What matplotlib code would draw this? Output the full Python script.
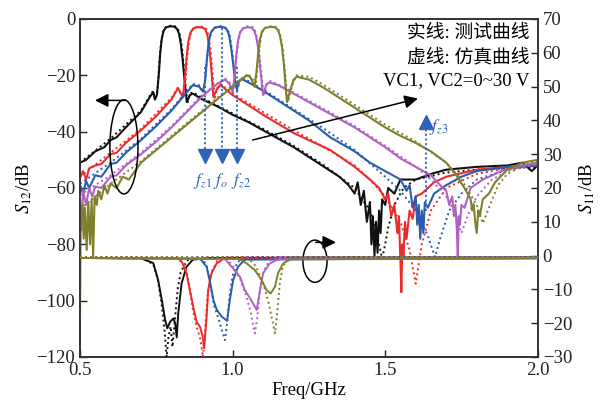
import numpy as np
import matplotlib
matplotlib.use("Agg")
import matplotlib.pyplot as plt
from matplotlib.patches import Ellipse

plt.rcParams["font.family"] = ["Liberation Serif", "Noto Sans CJK SC"]
plt.rcParams["mathtext.fontset"] = "stix"

# ---- data (freq GHz, dB) ----
# S12, measured (solid)
black_s12_meas = [(0.50, -51), (0.52, -50), (0.55, -47), (0.58, -45.5), (0.60, -43), (0.62, -42),
                  (0.65, -38.5), (0.70, -33), (0.73, -27.5), (0.74, -26), (0.745, -28.5), (0.752, -27),
                  (0.758, -20), (0.763, -12), (0.768, -7), (0.774, -4.2), (0.782, -3), (0.795, -2.6),
                  (0.808, -2.7), (0.817, -3.4), (0.824, -5), (0.83, -8.5), (0.836, -14), (0.842, -21),
                  (0.85, -29.5), (0.86, -27), (0.87, -26.5), (0.90, -28.5), (0.95, -31), (1.00, -34),
                  (1.05, -36.5), (1.10, -39.5), (1.15, -42.5), (1.20, -45.5), (1.25, -49), (1.30, -52.5),
                  (1.35, -56), (1.38, -59), (1.40, -62), (1.41, -58), (1.42, -66), (1.43, -61),
                  (1.44, -72), (1.45, -65), (1.455, -80), (1.46, -70), (1.465, -84), (1.47, -72),
                  (1.475, -83), (1.48, -68), (1.485, -76), (1.49, -64), (1.50, -66), (1.51, -60),
                  (1.53, -62), (1.55, -57), (1.60, -57), (1.65, -55), (1.70, -53.5), (1.80, -52.5),
                  (1.90, -52), (1.95, -51), (1.98, -54), (2.00, -52)]
red_s12_meas = [(0.50, -56.5), (0.51, -54), (0.52, -57), (0.53, -53), (0.55, -52), (0.57, -51.5),
                (0.60, -48), (0.62, -47.5), (0.65, -44), (0.70, -39.5), (0.75, -34.5),
                (0.80, -28.5), (0.821, -24.5), (0.837, -27.7), (0.843, -22), (0.849, -14), (0.855, -8),
                (0.862, -4.8), (0.872, -3.3), (0.885, -2.9), (0.90, -3), (0.91, -3.6), (0.917, -5.5),
                (0.923, -9.5), (0.929, -16), (0.934, -23), (0.937, -27.7), (0.948, -25), (0.96, -23.4),
                (1.00, -27), (1.10, -34), (1.20, -40.5), (1.32, -46.5),
                (1.40, -52.5), (1.45, -57), (1.48, -60), (1.50, -64), (1.51, -62), (1.52, -70),
                (1.53, -66), (1.54, -76), (1.545, -70), (1.55, -86), (1.553, -97), (1.556, -80),
                (1.56, -84), (1.565, -72), (1.57, -78), (1.58, -68), (1.59, -71), (1.60, -63),
                (1.62, -62), (1.66, -58), (1.70, -56), (1.80, -53.5), (1.90, -52.5), (2.00, -52)]
blue_s12_meas = [(0.50, -59), (0.51, -62), (0.52, -57.5), (0.53, -60), (0.55, -55.5), (0.57, -56),
                 (0.60, -51.5), (0.62, -51), (0.65, -47.5), (0.70, -43), (0.75, -38),
                 (0.80, -32.5), (0.85, -26), (0.87, -23.5), (0.89, -24), (0.903, -25.8), (0.91, -22),
                 (0.916, -14), (0.922, -8), (0.929, -4.8), (0.94, -3.2), (0.955, -2.8), (0.97, -2.9),
                 (0.98, -3.5), (0.988, -5.5), (0.995, -10), (1.002, -16), (1.008, -22), (1.014, -25),
                 (1.022, -22), (1.03, -21.3), (1.06, -23),
                 (1.10, -25.5), (1.15, -29), (1.20, -32.5), (1.25, -36), (1.32, -42), (1.40, -47),
                 (1.45, -51), (1.50, -54), (1.55, -57), (1.57, -61), (1.58, -59), (1.59, -67),
                 (1.60, -63), (1.605, -73), (1.61, -66), (1.615, -78), (1.62, -68), (1.625, -76),
                 (1.63, -65), (1.64, -67), (1.66, -62), (1.70, -59), (1.75, -56), (1.80, -54),
                 (1.90, -52.5), (2.00, -52)]
violet_s12_meas = [(0.50, -63), (0.505, -75), (0.51, -61), (0.52, -66), (0.53, -60), (0.54, -63),
                   (0.55, -59.5), (0.57, -60), (0.60, -56), (0.62, -55.5), (0.65, -52),
                   (0.70, -48), (0.75, -43.5), (0.80, -38.5), (0.85, -33), (0.90, -27.5), (0.95, -23),
                   (0.975, -21.5), (0.99, -23), (1.00, -26), (1.006, -21), (1.012, -13), (1.018, -7.5),
                   (1.025, -4.6), (1.035, -3.3), (1.05, -2.9), (1.062, -3.1), (1.07, -4), (1.077, -6),
                   (1.084, -10.5), (1.09, -17), (1.096, -23), (1.10, -27),
                   (1.11, -23.5), (1.12, -22.5), (1.15, -23.5), (1.20, -26.5), (1.25, -29.5),
                   (1.30, -32.5), (1.35, -35.5), (1.40, -38.5), (1.45, -42), (1.50, -45.5), (1.55, -49.5),
                   (1.60, -52.5), (1.65, -55.5), (1.68, -59), (1.70, -61), (1.71, -66), (1.72, -63),
                   (1.725, -70), (1.73, -66), (1.735, -75), (1.738, -85), (1.741, -70), (1.745, -73),
                   (1.75, -66), (1.76, -67), (1.78, -60), (1.82, -57), (1.88, -54), (1.95, -52),
                   (2.00, -51)]
olive_s12_meas = [(0.500, -107), (0.502, -70), (0.508, -66), (0.512, -78), (0.516, -67), (0.522, -82),
                  (0.527, -65), (0.533, -80), (0.538, -64), (0.543, -84.5), (0.548, -63), (0.555, -66),
                  (0.56, -61), (0.57, -64), (0.58, -59), (0.59, -62), (0.60, -58.5), (0.62, -60),
                  (0.64, -56), (0.66, -57), (0.70, -51), (0.75, -46.5), (0.80, -42), (0.85, -37.5),
                  (0.90, -33), (0.95, -28.5), (1.00, -24), (1.04, -20.5), (1.05, -20), (1.06, -21),
                  (1.072, -24), (1.078, -19), (1.084, -12), (1.09, -7), (1.097, -4.3), (1.108, -3.1),
                  (1.125, -2.8), (1.14, -3), (1.148, -3.8), (1.155, -5.8), (1.162, -10), (1.168, -16),
                  (1.173, -23), (1.178, -29.5), (1.19, -25), (1.20, -21.5),
                  (1.21, -20.5), (1.25, -21.5), (1.30, -24.5), (1.35, -28), (1.40, -31.5), (1.45, -35),
                  (1.50, -38.5), (1.55, -41.5), (1.60, -44), (1.65, -47), (1.70, -51), (1.73, -55),
                  (1.76, -60), (1.78, -64), (1.785, -68), (1.79, -66), (1.795, -72), (1.80, -76),
                  (1.805, -68), (1.81, -70), (1.82, -64), (1.84, -62), (1.86, -58), (1.90, -53.5),
                  (1.95, -51), (2.00, -50)]

# S12, simulated (dotted)
black_s12_sim = [(0.50, -51), (0.60, -42.5), (0.70, -32.5), (0.73, -27), (0.74, -25.5), (0.748, -29),
                 (0.755, -24), (0.761, -14), (0.766, -8), (0.772, -4.5), (0.78, -3), (0.795, -2.4),
                 (0.81, -2.5), (0.82, -3.3), (0.827, -5.5), (0.834, -10), (0.84, -17), (0.846, -24),
                 (0.852, -30), (0.86, -26.5), (0.87, -26), (0.90, -28),
                 (1.00, -33.5), (1.10, -39), (1.20, -45), (1.30, -52), (1.40, -60), (1.45, -68),
                 (1.47, -75), (1.49, -85), (1.50, -80), (1.51, -74), (1.53, -66), (1.56, -60),
                 (1.60, -57), (1.70, -54.5), (1.80, -53.5), (1.90, -53), (2.00, -52.5)]
red_s12_sim = [(0.50, -56), (0.60, -47.5), (0.70, -39), (0.80, -28), (0.82, -24.5), (0.838, -28),
               (0.845, -23), (0.851, -14), (0.857, -8), (0.864, -4.6), (0.875, -3), (0.89, -2.6),
               (0.905, -2.8), (0.914, -3.6), (0.921, -5.8), (0.927, -10), (0.933, -17), (0.938, -24),
               (0.942, -28), (0.95, -24.5), (0.96, -23), (1.00, -26.5),
               (1.10, -33), (1.20, -39.5), (1.30, -45.5), (1.40, -52), (1.45, -57), (1.50, -63),
               (1.55, -72), (1.58, -82), (1.60, -94), (1.62, -80), (1.65, -68), (1.70, -60),
               (1.80, -55), (1.90, -53), (2.00, -52)]
blue_s12_sim = [(0.50, -58.5), (0.60, -51), (0.70, -42.5), (0.80, -32), (0.87, -23), (0.89, -23.5),
                (0.903, -26), (0.911, -21), (0.917, -13), (0.923, -7.5), (0.93, -4.5), (0.942, -3),
                (0.96, -2.5), (0.973, -2.8), (0.983, -3.6), (0.991, -6), (0.998, -11), (1.004, -17),
                (1.01, -23), (1.015, -25.5), (1.025, -21.5),
                (1.035, -21), (1.10, -25), (1.20, -32), (1.30, -39), (1.40, -46.5), (1.50, -56),
                (1.55, -61), (1.60, -68), (1.64, -77), (1.663, -84.5), (1.68, -78), (1.71, -68),
                (1.75, -62), (1.80, -57), (1.90, -53.5), (2.00, -52)]
violet_s12_sim = [(0.50, -62.5), (0.60, -55.5), (0.70, -47.5), (0.80, -38), (0.90, -27), (0.975, -21),
                  (0.99, -22.5), (1.002, -26), (1.008, -20), (1.014, -12), (1.02, -7), (1.027, -4.2),
                  (1.038, -2.8), (1.053, -2.5), (1.066, -2.9), (1.074, -4.2), (1.081, -7), (1.088, -12),
                  (1.094, -19), (1.102, -27), (1.112, -23),
                  (1.125, -22), (1.20, -26), (1.30, -32), (1.40, -38), (1.50, -45), (1.60, -52.5),
                  (1.65, -57), (1.70, -63), (1.73, -69), (1.75, -76), (1.77, -70), (1.80, -63),
                  (1.85, -57), (1.90, -54), (2.00, -51.5)]
olive_s12_sim = [(0.50, -67.5), (0.60, -58.5), (0.70, -50.5), (0.80, -41.5), (0.90, -32.5), (1.00, -23.5),
                 (1.05, -19.5), (1.065, -21), (1.075, -24.5), (1.081, -18), (1.087, -11), (1.093, -6.5),
                 (1.1, -4), (1.112, -2.8), (1.13, -2.5), (1.143, -2.9), (1.151, -4), (1.158, -6.5),
                 (1.165, -11), (1.171, -18), (1.177, -25), (1.182, -29.5),
                 (1.195, -23.5), (1.21, -20), (1.25, -20.5), (1.30, -23.5), (1.40, -30.5), (1.50, -37.5),
                 (1.60, -43.5), (1.70, -51), (1.75, -57), (1.80, -66), (1.82, -72.5), (1.84, -67),
                 (1.87, -59), (1.90, -55), (1.95, -52), (2.00, -50.5)]

# S11 (right axis), measured
black_s11_meas = [(0.50, -0.7), (0.70, -0.8), (0.74, -2.2), (0.756, -7.2), (0.768, -13.1), (0.779, -19),
                  (0.786, -21.5), (0.796, -19.5), (0.806, -18.6), (0.812, -20), (0.817, -24.2),
                  (0.822, -17), (0.833, -8.2), (0.849, -3.3), (0.87, -1.2), (0.92, -0.7), (2.00, -0.7)]
red_s11_meas = [(0.50, -0.7), (0.82, -0.8), (0.835, -2), (0.849, -5.3), (0.86, -10.2), (0.871, -15.1),
                (0.882, -19.6), (0.893, -21), (0.902, -24), (0.907, -27.4), (0.915, -18), (0.92, -10.2),
                (0.931, -5.2), (0.948, -2.3), (0.97, -1), (2.00, -0.7)]
blue_s11_meas = [(0.50, -0.7), (0.893, -0.9), (0.915, -3.3), (0.927, -8.2), (0.937, -13.1), (0.948, -16),
                 (0.964, -18), (0.982, -19.3), (0.991, -13.1), (1.002, -7.2), (1.018, -3.3),
                 (1.04, -1.2), (2.00, -0.7)]
violet_s11_meas = [(0.50, -0.7), (0.975, -1), (0.997, -3.3), (1.024, -6.2), (1.04, -10.2), (1.057, -12.6),
                   (1.073, -15.1), (1.079, -16.1), (1.09, -10.2), (1.10, -5.2), (1.122, -2.3),
                   (1.15, -1.1), (2.00, -0.7)]
olive_s11_meas = [(0.50, -0.7), (1.02, -1), (1.046, -2.3), (1.073, -4.3), (1.095, -7.2), (1.111, -10.2),
                  (1.125, -11.2), (1.139, -9.2), (1.149, -5.2), (1.166, -2.3), (1.19, -1.1),
                  (2.00, -0.9)]

# S11, simulated
black_s11_sim = [(0.50, -0.4), (0.70, -0.6), (0.74, -2.5), (0.755, -7), (0.767, -14), (0.777, -22),
                 (0.784, -30), (0.79, -24), (0.797, -21), (0.803, -27), (0.81, -20), (0.82, -10),
                 (0.83, -5), (0.85, -1.5), (0.88, -0.5), (2.00, -0.4)]
red_s11_sim = [(0.50, -0.4), (0.82, -0.6), (0.845, -3), (0.858, -9), (0.87, -16), (0.882, -21),
               (0.895, -25), (0.903, -30), (0.91, -22), (0.918, -12), (0.93, -5), (0.95, -1.5),
               (0.98, -0.5), (2.00, -0.4)]
blue_s11_sim = [(0.50, -0.4), (0.90, -0.6), (0.915, -3), (0.928, -9), (0.94, -15), (0.955, -19),
                (0.968, -23), (0.975, -25), (0.982, -20), (0.99, -12), (1.00, -6), (1.015, -2),
                (1.04, -0.5), (2.00, -0.4)]
violet_s11_sim = [(0.50, -0.4), (0.98, -0.6), (1.00, -3), (1.025, -7), (1.045, -12), (1.06, -17),
                  (1.068, -21), (1.073, -23), (1.08, -19), (1.09, -10), (1.10, -5), (1.12, -1.5),
                  (1.15, -0.5), (2.00, -0.4)]
olive_s11_sim = [(0.50, -0.4), (1.05, -0.6), (1.075, -3), (1.10, -8), (1.118, -14), (1.13, -19),
                 (1.139, -23), (1.146, -17), (1.155, -8), (1.165, -3), (1.19, -0.5), (2.00, -0.4)]

colors = {"black": "#111111", "red": "#ee2b2b", "blue": "#2a5cad", "violet": "#b062c2", "olive": "#7f7f2c"}
arrow_blue = "#2e63b8"

s12_meas = {"black": black_s12_meas, "red": red_s12_meas, "blue": blue_s12_meas,
            "violet": violet_s12_meas, "olive": olive_s12_meas}
s12_sim = {"black": black_s12_sim, "red": red_s12_sim, "blue": blue_s12_sim,
           "violet": violet_s12_sim, "olive": olive_s12_sim}
s11_meas = {"black": black_s11_meas, "red": red_s11_meas, "blue": blue_s11_meas,
            "violet": violet_s11_meas, "olive": olive_s11_meas}
s11_sim = {"black": black_s11_sim, "red": red_s11_sim, "blue": blue_s11_sim,
           "violet": violet_s11_sim, "olive": olive_s11_sim}

fig = plt.figure(figsize=(6.12, 4.12), dpi=100)
ax = fig.add_axes([0.1307, 0.1335, 0.748, 0.8204])
ax2 = ax.twinx()

dots = (0, (1, 1.6))
for name in colors:
    f, v = np.array(s12_meas[name]).T
    ax.plot(f, v, color=colors[name], lw=1.5, zorder=3)
    f, v = np.array(s12_sim[name]).T
    ax.plot(f, v, color=colors[name], lw=1.4, ls=dots, zorder=3)
    f, v = np.array(s11_meas[name]).T
    ax2.plot(f, v, color=colors[name], lw=1.4, zorder=3)
    f, v = np.array(s11_sim[name]).T
    ax2.plot(f, v, color=colors[name], lw=1.4, ls=dots, zorder=3)

ax.set_xlim(0.5, 2.0)
ax.set_ylim(-120, 0)
ax2.set_ylim(-30, 70)
ax.set_xticks([0.5, 1.0, 1.5, 2.0])
ax.set_xticklabels(["0.5", "1.0", "1.5", "2.0"])
ax.set_yticks(np.arange(-120, 1, 20))
ax.set_yticklabels(["\u2212120", "\u2212100", "\u221280", "\u221260", "\u221240", "\u221220", "0"])
ax2.set_yticks(np.arange(-30, 71, 10))
ax2.set_yticklabels([("\u2212%d" % -t) if t < 0 else str(t) for t in range(-30, 71, 10)])

for a in (ax, ax2):
    a.tick_params(direction="in", length=5, width=1, labelsize=13.5, colors="#222222")
    for s in a.spines.values():
        s.set_linewidth(1.2)
        s.set_color("#333333")

ax.set_xlabel("Freq/GHz", fontsize=13.5, labelpad=2)
ax.set_ylabel("$S_{12}$/dB", fontsize=13.5, labelpad=2)
ax2.set_ylabel("$S_{11}$/dB", fontsize=13.5, labelpad=4)

# legend-like text
ax.text(1.974, -5, "实线: 测试曲线", ha="right", va="center", fontsize=13.5)
ax.text(1.974, -13.5, "虚线: 仿真曲线", ha="right", va="center", fontsize=13.5)
ax.text(1.974, -21.8, "VC1, VC2=0~30 V", ha="right", va="center", fontsize=13.5)

# tuning arrow
ax.annotate("", xy=(1.616, -28), xytext=(1.057, -43.2),
            arrowprops=dict(arrowstyle="-|>", color="k", lw=1.1, mutation_scale=20))

# ellipses with direction arrows
ax.add_patch(Ellipse((0.644, -45.4), 0.092, 33.4, fill=False, ec="k", lw=1.1, zorder=4))
ax.annotate("", xy=(0.54, -28.9), xytext=(0.657, -28.9),
            arrowprops=dict(arrowstyle="-|>", color="k", lw=1.1, mutation_scale=20))
ax.add_patch(Ellipse((1.27, -86), 0.079, 15, fill=False, ec="k", lw=1.1, zorder=4))
ax.annotate("", xy=(1.348, -79.3), xytext=(1.263, -79.3),
            arrowprops=dict(arrowstyle="-|>", color="k", lw=1.1, mutation_scale=20))

# zero markers
zero_x = [0.909, 0.965, 1.014]
zero_top = [-17, -3.2, -17]
zero_lbl = ["$f_{z1}$", "$f_{o}$", "$f_{z2}$"]
zero_lbl_x = [0.900, 0.959, 1.027]
for x, top, lbl, lx in zip(zero_x, zero_top, zero_lbl, zero_lbl_x):
    ax.plot([x, x], [top, -47], color=arrow_blue, lw=1.3, ls=(0, (1.2, 1.4)), zorder=5)
    ax.plot([x], [-48.5], marker="v", ms=10, color=arrow_blue, zorder=5)
    ax.text(lx, -57.5, lbl, color=arrow_blue, ha="center", va="center", fontsize=12.5)
ax.plot([1.633, 1.633], [-68, -38], color=arrow_blue, lw=1.3, ls=(0, (1.2, 1.4)), zorder=5)
ax.plot([1.633], [-36.5], marker="^", ms=10, color=arrow_blue, zorder=5)
ax.text(1.645, -38.5, "$f_{z3}$", color=arrow_blue, ha="left", va="center", fontsize=12.5)

fig.savefig("out.png", dpi=100)
